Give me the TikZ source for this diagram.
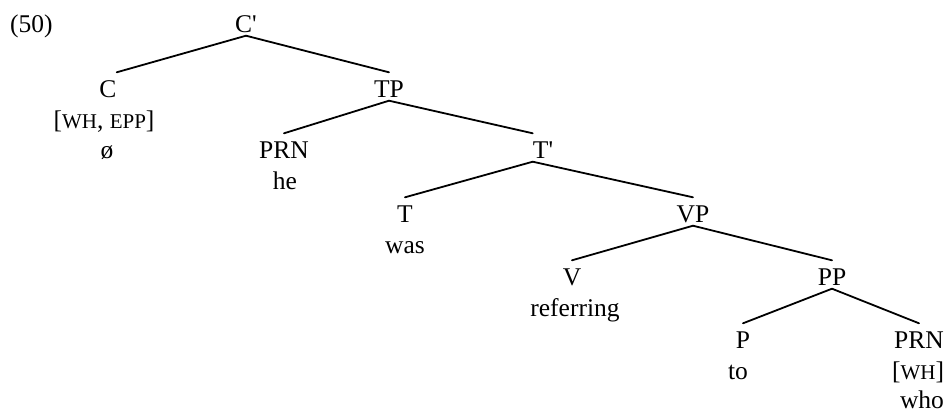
\documentclass[tikz,border=0pt]{standalone}
\usepackage{fontspec}
\newfontfamily\tnr{Liberation Serif}
\newcommand{\fsc}[1]{{\fontsize{21}{21}\selectfont #1}}
\begin{document}
\begin{tikzpicture}[x=1pt,y=-1pt,
  font=\tnr\fontsize{25.5}{30}\selectfont,
  cat/.style={anchor=base,inner sep=0pt,text height=24.5pt,text depth=3.5pt},
  word/.style={anchor=base,inner sep=0pt},
  branch/.style={line width=1.8pt,line cap=round}]
\useasboundingbox (0,0) rectangle (948,413);
\node[word,anchor=base west] (ex) at (10,32) {(50)};
\node[cat] (cbar) at (246,32) {C'};
\node[cat] (c) at (108,97) {C};
\node[word] (cfeat) at (104,128) {[\fsc{WH}, \fsc{EPP}]};
\node[word] (cnull) at (107,158) {ø};
\node[cat] (tp) at (389,97) {TP};
\node[cat] (prna) at (284,158) {PRN};
\node[word] (he) at (285,189) {he};
\node[cat] (tbar) at (543,158) {T'};
\node[cat] (t) at (405,222) {T};
\node[word] (was) at (405,253) {was};
\node[cat] (vp) at (693,222) {VP};
\node[cat] (v) at (572,285) {V};
\node[word] (referring) at (575,316) {referring};
\node[cat] (pp) at (832,285) {PP};
\node[cat] (p) at (743,348) {P};
\node[word] (to) at (738,379) {to};
\node[cat] (prnb) at (919,348) {PRN};
\node[word] (wh) at (918,379) {[\fsc{WH}]};
\node[word] (who) at (922,408) {who};
\draw[branch] (cbar.south) -- (c.north east);
\draw[branch] (cbar.south) -- (tp.north);
\draw[branch] (tp.south) -- (prna.north);
\draw[branch] (tp.south) -- (tbar.north west);
\draw[branch] (tbar.south west) -- (t.north);
\draw[branch] (tbar.south west) -- (vp.north);
\draw[branch] (vp.south) -- (v.north);
\draw[branch] (vp.south) -- (pp.north);
\draw[branch] (pp.south) -- (p.north);
\draw[branch] (pp.south) -- (prnb.north);
\end{tikzpicture}
\end{document}
